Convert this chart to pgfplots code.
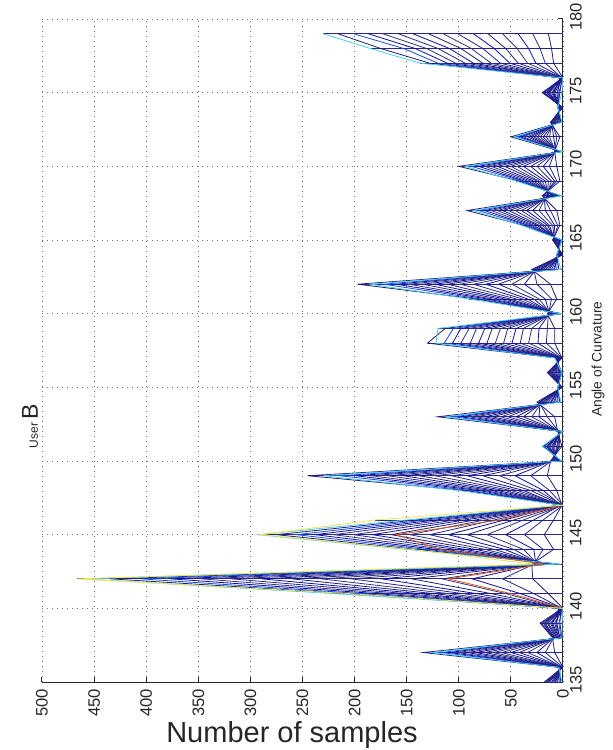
\documentclass[border=0pt]{standalone}
\usepackage{pgfplots}
\pgfplotsset{compat=1.18}
\usepackage{pgfplotstable}
\usepackage{fontspec}
\setmainfont{Liberation Sans}
\definecolor{nv1}{rgb}{0.12,0.12,0.45}
\definecolor{nv2}{rgb}{0.15,0.15,0.55}
\definecolor{nv3}{rgb}{0.05,0.05,0.65}
\definecolor{nv4}{rgb}{0.2,0.2,0.5}
\definecolor{bl1}{rgb}{0.1,0.3,0.9}
\definecolor{cy1}{rgb}{0.3,0.8,0.92}
\definecolor{ye1}{rgb}{0.95,0.9,0.3}
\definecolor{or1}{rgb}{0.85,0.35,0.1}
\pgfplotstableread{
a c1 c2 c3 c4 c5 c6 c7 c8 c9 c10 c11 c12 c13 c14 c15 c16 m
135 18 17 16 15 14 13 11 10 9 8 7 6 5 3 2 1 18
136 0 0 1 1 1 1 2 2 2 2 3 3 3 3 4 4 4
137 8 17 25 34 42 50 59 67 75 84 92 101 109 117 134 126 134
138 10 9 9 8 8 7 6 6 5 4 4 3 3 2 1 1 10
139 22 21 19 18 17 15 14 12 11 10 8 7 6 4 3 1 22
140 0 1 0 2 1 0 3 1 0 2 0 1 4 0 2 0 4
141 14 28 41 55 69 83 96 110 124 138 151 165 179 193 206 220 220
142 29 58 87 116 145 174 203 232 260 289 318 347 376 405 434 460 466
143 30 28 26 24 22 21 19 17 15 13 11 9 8 6 4 2 30
144 9 19 28 38 47 56 66 75 84 94 103 113 122 131 141 150 150
145 18 37 55 73 92 110 128 147 165 183 201 220 238 256 275 293 293
146 9 19 28 38 47 56 66 75 84 94 103 113 122 131 141 150 180
147 1 0 2 0 1 3 0 1 2 0 1 0 2 1 0 1 3
148 6 13 19 25 31 38 44 50 56 63 69 75 81 88 94 100 100
149 15 31 46 61 77 92 107 123 138 153 168 184 199 214 245 230 245
150 12 11 11 10 9 8 8 7 6 5 5 4 3 2 2 1 12
151 1 3 4 5 6 8 9 10 11 13 14 15 16 18 19 20 20
152 5 4 4 4 3 3 3 3 2 2 2 1 1 1 0 0 5
153 8 15 23 30 38 45 53 60 68 75 83 90 98 105 120 113 120
154 25 23 22 20 19 17 16 14 12 11 9 8 6 5 3 2 25
155 1 1 1 1 2 2 2 3 3 3 3 4 4 4 5 5 5
156 15 14 13 12 11 10 9 8 7 6 5 4 3 2 1 1 15
157 1 1 2 2 2 3 3 4 4 5 5 6 6 7 7 8 8
158 8 16 24 33 41 49 57 65 73 81 89 98 106 114 130 122 130
159 8 15 23 30 38 45 53 60 68 75 83 90 98 105 113 120 120
160 15 14 13 12 11 10 9 8 7 6 5 4 3 2 1 1 15
161 6 11 17 23 28 34 39 45 51 56 62 68 73 79 84 90 90
162 12 25 37 49 62 74 86 99 111 123 135 148 160 172 197 185 197
163 30 28 26 24 22 21 19 17 15 13 11 9 8 6 4 2 30
164 0 1 1 2 2 2 3 3 3 4 4 4 5 5 6 6 6
165 10 9 9 8 8 7 6 6 5 4 4 3 3 2 1 1 10
166 3 5 8 10 13 15 18 20 23 25 28 30 33 35 38 40 40
167 6 12 17 23 29 35 40 46 52 58 63 69 75 81 92 86 92
168 20 19 18 16 15 14 13 11 10 9 8 6 5 4 3 1 20
169 3 6 8 11 14 17 20 23 25 28 31 34 37 39 42 45 45
170 6 13 19 25 31 38 44 50 56 63 69 75 81 88 100 94 100
171 8 8 7 7 6 6 5 5 4 4 3 3 2 2 1 0 8
172 3 6 9 13 16 19 22 25 28 31 34 38 41 44 50 47 50
173 12 11 11 10 9 8 8 7 6 5 5 4 3 2 2 1 12
174 0 1 1 1 2 2 2 3 3 3 3 4 4 4 5 5 5
175 20 19 18 16 15 14 13 11 10 9 8 6 5 4 3 1 20
176 0 1 0 1 0 2 1 0 1 2 0 1 3 0 1 0 3
177 9 17 26 34 43 51 60 69 77 86 94 103 111 120 128 137 137
178 11 22 33 44 55 66 77 88 98 109 120 131 142 153 175 185 185
179 14 29 43 58 72 86 101 115 129 144 158 173 187 201 216 230 230
}\data
\begin{document}
\begin{tikzpicture}
\path[use as bounding box] (-21pt,-34pt) rectangle (285.5pt,341pt);
\begin{axis}[
  scale only axis, width=260.5pt, height=331.5pt,
  x dir=reverse,
  xmin=0, xmax=500, ymin=135, ymax=180,
  xtick={0,50,...,500}, ytick={135,140,...,180},
  axis x line*=bottom, axis y line*=right,
  axis line style={-, black!85, line width=0.5pt},
  tick align=inside, major tick length=2.5pt,
  tick style={black!85, line width=0.5pt},
  grid=major,
  major grid style={dash pattern=on 0.5pt off 2pt, black!55, line width=0.45pt},
  /pgf/number format/assume math mode=true,
  ticklabel style={font=\fontsize{8.3}{9}\selectfont, text=black!85},
  xticklabel style={rotate=90, anchor=east},
  yticklabel style={rotate=90, anchor=north, xshift=1pt},
  every axis plot/.append style={line width=0.4pt, mark=none},
]
\addplot[xcomb, nv2] table[x=m, y=a] {\data};
\addplot[nv1] table[x=c1, y=a] {\data};
\addplot[nv2] table[x=c2, y=a] {\data};
\addplot[nv3] table[x=c3, y=a] {\data};
\addplot[nv4] table[x=c4, y=a] {\data};
\addplot[nv1] table[x=c5, y=a] {\data};
\addplot[nv3] table[x=c6, y=a] {\data};
\addplot[nv2] table[x=c7, y=a] {\data};
\addplot[nv4] table[x=c8, y=a] {\data};
\addplot[nv1] table[x=c9, y=a] {\data};
\addplot[nv3] table[x=c10, y=a] {\data};
\addplot[nv2] table[x=c11, y=a] {\data};
\addplot[nv4] table[x=c12, y=a] {\data};
\addplot[nv3] table[x=c13, y=a] {\data};
\addplot[bl1] table[x=c14, y=a] {\data};
\addplot[nv1] table[x=c15, y=a] {\data};
\addplot[cy1] table[x=c16, y=a] {\data};
\addplot[or1] coordinates {(0,140) (50,141) (110,142) (18,143) (118,144) (160,145) (60,146) (0,147)};
\addplot[ye1] coordinates {(0,140) (205,141) (466,142) (28,143) (145,144) (290,145) (180,146) (0,147)};
\end{axis}
\node[rotate=90, font=\fontsize{6.9}{8}\selectfont, text=black!85] at (278pt,161.4pt) {Angle of Curvature};
\node[font=\fontsize{14.5}{17}\selectfont, text=black!85] at (125pt,-26.5pt) {Number of samples};
\node[rotate=90, font=\fontsize{11.5}{13}\selectfont, text=black!85] at (-6pt,128pt) {{\fontsize{6}{7}\selectfont User}\,B};
\end{tikzpicture}
\end{document}
